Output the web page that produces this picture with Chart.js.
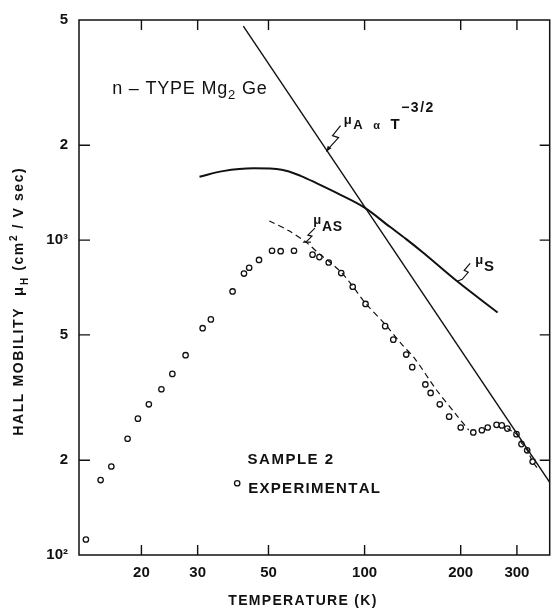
<!DOCTYPE html>
<html>
<head>
<meta charset="utf-8">
<title>Hall mobility, n-type Mg2Ge</title>
<script src="https://cdn.jsdelivr.net/npm/chart.js@4.4.1/dist/chart.umd.min.js"></script>
<style>
  html, body { margin: 0; padding: 0; background: #fff; }
  #wrap { width: 555px; height: 613px; }
</style>
</head>
<body>
<div id="wrap"><canvas id="chart" width="555" height="613"></canvas></div>
<script>
// values: temperature in K, mobility in cm^2/V sec
const X_TICKS = [20, 30, 50, 100, 200, 300];
const Y_TICKS = [100, 200, 500, 1000, 2000, 5000];
const Y_TICK_LABELS = ["10²", "2", "5", "10³", "2", "5"];

// sample 2, experimental points
const EXP_T = [13.4, 14.9, 16.1, 18.1, 19.5, 21.1, 23.1, 25.0, 27.5, 31.1,
  33.0, 38.6, 41.9, 43.5, 46.7, 51.3, 54.6, 60.1, 68.7, 72.2,
  77.2, 84.5, 91.8, 100.7, 116, 123, 135, 141, 155, 161,
  172, 184, 200, 219, 233, 243, 259, 269, 280, 299,
  310, 323, 336];
const EXP_MU = [112, 173, 191, 234, 271, 301, 336, 376, 431, 525,
  560, 687, 783, 817, 865, 925, 922, 925, 899, 883,
  849, 786, 711, 627, 533, 483, 433, 395, 348, 327,
  301, 275, 254, 245, 249, 254, 259, 258, 252, 242,
  225, 215, 198];

// mu_AS (dashed), two pieces
const AS_T = [50.3, 58, 66, 72, 78, 85, 92, 100, 116, 130, 144, 167, 193, 212];
const AS_MU = [1150, 1070, 980, 905, 850, 785, 712, 635, 540, 470, 419, 337, 280, 249];
const AS_TAIL_T = [280, 299, 310, 323, 336, 347];
const AS_TAIL_MU = [252, 242, 227, 215, 198, 189];

// mu_S
const S_T = [30.4, 36, 45, 55, 63, 72, 82, 100, 120, 135, 152, 195, 261];
const S_MU = [1590, 1656, 1690, 1672, 1600, 1503, 1410, 1268, 1102, 1007, 915, 740, 589];

// mu_A ~ T^-3/2 (straight line on log-log)
const A_T = [41.7, 380];
const A_MU = [4780, 170];

const INK = "#111";
const FONT = "Liberation Sans";

const pts = (xs, ys) => xs.map((v, i) => ({ x: v, y: ys[i] }));

function spaced(ctx, text, x, y, gap) {
  for (const ch of text) {
    ctx.fillText(ch, x, y);
    x += ctx.measureText(ch).width + gap;
  }
  return x;
}

const fontOf = (r) => `${r.w || "bold"} ${r.size}px "${FONT}"`;

function runsWidth(ctx, runs, gap) {
  let w = 0;
  runs.forEach((r) => {
    ctx.font = fontOf(r);
    for (const ch of r.t) w += ctx.measureText(ch).width + gap;
  });
  return w - gap;
}

function drawRuns(ctx, runs, x, y, gap) {
  runs.forEach((r) => {
    ctx.font = fontOf(r);
    x = spaced(ctx, r.t, x, y + (r.dy || 0), gap);
  });
  return x;
}

function zigzag(ctx, tx, ty, offs, arrow) {
  ctx.beginPath();
  offs.forEach(([dx, dy], i) => (i ? ctx.lineTo(tx + dx, ty + dy) : ctx.moveTo(tx + dx, ty + dy)));
  ctx.lineTo(tx, ty);
  ctx.stroke();
  if (arrow) {
    const [dx, dy] = offs[offs.length - 1];
    const ang = Math.atan2(-dy, -dx);
    ctx.beginPath();
    ctx.moveTo(tx, ty);
    ctx.lineTo(tx - 6 * Math.cos(ang - 0.4), ty - 6 * Math.sin(ang - 0.4));
    ctx.lineTo(tx - 6 * Math.cos(ang + 0.4), ty - 6 * Math.sin(ang + 0.4));
    ctx.closePath();
    ctx.fill();
  }
}

const decor = {
  id: "decor",
  afterDatasetsDraw(chart) {
    const { ctx, chartArea: a, scales: { x, y } } = chart;
    const P = (t, m) => [x.getPixelForValue(t), y.getPixelForValue(m)];
    ctx.save();
    ctx.strokeStyle = INK;
    ctx.fillStyle = INK;

    // frame
    ctx.lineWidth = 1.5;
    ctx.strokeRect(a.left, a.top, a.right - a.left, a.bottom - a.top);

    // inward ticks on all four sides
    ctx.lineWidth = 1.4;
    ctx.beginPath();
    X_TICKS.forEach((v) => {
      const px = x.getPixelForValue(v);
      ctx.moveTo(px, a.bottom); ctx.lineTo(px, a.bottom - 10);
      ctx.moveTo(px, a.top); ctx.lineTo(px, a.top + 10);
    });
    Y_TICKS.slice(1, -1).forEach((v) => {
      const py = y.getPixelForValue(v);
      ctx.moveTo(a.left, py); ctx.lineTo(a.left + 11, py);
      ctx.moveTo(a.right, py); ctx.lineTo(a.right - 10, py);
    });
    ctx.stroke();

    ctx.textBaseline = "alphabetic";
    ctx.textAlign = "left";

    // title inside the plot
    let [px, py] = P(16.2, 2910);
    drawRuns(ctx, [
      { t: "n – TYPE Mg", size: 18, w: "normal" },
      { t: "2", size: 13, dy: 5, w: "normal" },
      { t: " Ge", size: 18, w: "normal" }
    ], px, py, 0.8);

    // mu_A label + leader
    [px, py] = P(86, 2260);
    drawRuns(ctx, [
      { t: "μ", size: 13, dy: -5 }, { t: "A", size: 13 }, { t: "  α  ", size: 11 },
      { t: "T", size: 15 }, { t: "−3/2", size: 14, dy: -17 }
    ], px, py, 1.5);
    ctx.lineWidth = 1.2;
    [px, py] = P(76, 1910);
    zigzag(ctx, px, py, [[14, -26], [6, -16], [12, -14], [2, -3]], true);

    // mu_AS label + leader
    [px, py] = P(69, 1067);
    drawRuns(ctx, [{ t: "μ", size: 13, dy: -7 }, { t: "AS", size: 14 }], px, py, 0.8);
    [px, py] = P(65.5, 985);
    zigzag(ctx, px, py, [[9, -14], [2, -7], [6, -6]], false);
    ctx.beginPath(); ctx.moveTo(px - 3, py); ctx.lineTo(px + 5, py); ctx.stroke();

    // mu_S label + leader
    [px, py] = P(222, 800);
    drawRuns(ctx, [{ t: "μ", size: 13, dy: -7 }, { t: "S", size: 15 }], px, py, 0.8);
    [px, py] = P(195, 740);
    zigzag(ctx, px, py, [[13, -18], [7, -11], [11, -9], [5, -2]], false);

    // sample legend
    [px, py] = P(43, 194);
    drawRuns(ctx, [{ t: "SAMPLE 2", size: 15 }], px, py, 1.5);
    [px, py] = P(39.9, 169);
    ctx.lineWidth = 1.3;
    ctx.beginPath(); ctx.arc(px, py, 2.7, 0, Math.PI * 2); ctx.stroke();
    drawRuns(ctx, [{ t: "EXPERIMENTAL", size: 15 }], px + 11, py + 10, 1.3);

    // axis titles
    const xt = [{ t: "TEMPERATURE (K)", size: 14 }];
    drawRuns(ctx, xt, (a.left + a.right) / 2 - 12 - runsWidth(ctx, xt, 1.3) / 2, 605, 1.3);

    const yt = [
      { t: "HALL MOBILITY  ", size: 14 }, { t: "μ", size: 15 }, { t: "H", size: 10, dy: 5 },
      { t: " (cm", size: 14 }, { t: "2", size: 10, dy: -6 }, { t: " / V sec)", size: 14 }
    ];
    ctx.translate(23, 302);
    ctx.rotate(-Math.PI / 2);
    drawRuns(ctx, yt, -runsWidth(ctx, yt, 1.6) / 2, 0, 1.6);

    ctx.restore();
  }
};

const lineSet = (data, extra) => Object.assign({
  data, showLine: true, pointRadius: 0, borderColor: INK, backgroundColor: INK, fill: false
}, extra);

new Chart(document.getElementById("chart"), {
  type: "scatter",
  data: {
    datasets: [
      lineSet(pts(A_T, A_MU), { borderWidth: 1.4 }),
      lineSet(pts(S_T, S_MU), { borderWidth: 2, cubicInterpolationMode: "monotone" }),
      lineSet(pts(AS_T, AS_MU), { borderWidth: 1.2, borderDash: [6, 4], tension: 0.3 }),
      lineSet(pts(AS_TAIL_T, AS_TAIL_MU), { borderWidth: 1.2, borderDash: [5, 4], tension: 0.3 }),
      {
        data: pts(EXP_T, EXP_MU),
        showLine: false,
        pointStyle: "circle",
        pointRadius: 2.7,
        pointBorderWidth: 1.3,
        pointBorderColor: INK,
        pointBackgroundColor: "#fff"
      }
    ]
  },
  options: {
    responsive: false,
    animation: false,
    devicePixelRatio: 1,
    layout: { padding: { top: 13, right: 1, left: 0, bottom: 0 } },
    plugins: { legend: { display: false }, tooltip: { enabled: false } },
    scales: {
      x: {
        type: "logarithmic",
        min: 12.75,
        max: 380,
        afterBuildTicks: (s) => { s.ticks = X_TICKS.map((v) => ({ value: v })); },
        afterFit: (s) => { s.height = 58; },
        grid: { display: false, drawTicks: false },
        border: { display: false },
        ticks: {
          color: INK, autoSkip: false, maxRotation: 0, padding: 9,
          font: { family: FONT, size: 15, weight: "bold" },
          callback: (v) => String(v)
        }
      },
      y: {
        type: "logarithmic",
        min: 100,
        max: 5000,
        afterBuildTicks: (s) => { s.ticks = Y_TICKS.map((v) => ({ value: v })); },
        afterFit: (s) => { s.width = 79; },
        grid: { display: false, drawTicks: false },
        border: { display: false },
        ticks: {
          color: INK, autoSkip: false, padding: 11,
          font: { family: FONT, size: 15, weight: "bold" },
          callback: (v) => Y_TICK_LABELS[Y_TICKS.indexOf(v)] ?? ""
        }
      }
    }
  },
  plugins: [decor]
});
</script>
</body>
</html>
